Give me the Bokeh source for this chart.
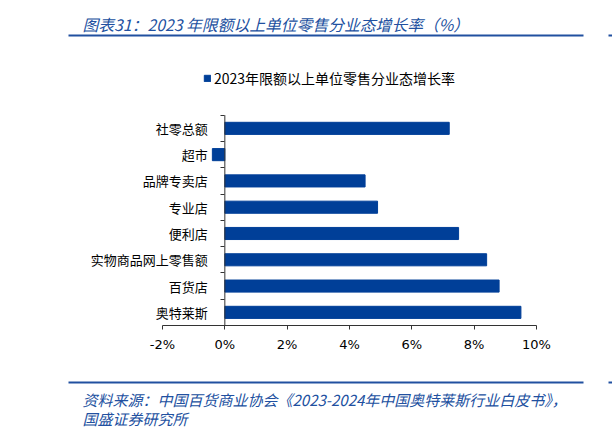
from bokeh.plotting import figure
from bokeh.models import (Range1d, FixedTicker, PrintfTickFormatter, Label,
                          BoxAnnotation, ColumnDataSource)
from bokeh.embed import file_html
from bokeh.resources import INLINE

# ---- data (top to bottom as displayed) ----
categories = ["社零总额", "超市", "品牌专卖店", "专业店", "便利店",
              "实物商品网上零售额", "百货店", "奥特莱斯"]
growth = [7.2, -0.4, 4.5, 4.9, 7.5, 8.4, 8.8, 9.5]
series_name = "2023年限额以上单位零售分业态增长率"
x_ticks = [-2, 0, 2, 4, 6, 8, 10]
title_text = "图表31：2023 年限额以上单位零售分业态增长率（%）"
source_line1 = "资料来源：中国百货商业协会《2023-2024年中国奥特莱斯行业白皮书》，"
source_line2 = "国盛证券研究所"

BLUE_BAR = "#003F98"
BLUE_TXT = "#2150A0"
AXIS = "#333333"
CJK = "Noto Sans CJK SC"

W, H = 612, 435
# pixel layout of the plotting area (page coords, y down)
PX_L, PX_R = 162.0, 536.0     # x of first / last x tick
PY_T, PY_B = 114.7, 325.0     # y of top / bottom category boundary

n = len(categories)
ypos = [n - 0.5 - i for i in range(n)]
src = ColumnDataSource(dict(y=ypos, right=growth, cat=categories))

xs = (PX_R - PX_L) / (x_ticks[-1] - x_ticks[0])
ys = (PY_B - PY_T) / n
x_range = Range1d(x_ticks[0] - PX_L / xs, x_ticks[-1] + (W - PX_R) / xs)
y_range = Range1d(0 - (H - PY_B) / ys, n + PY_T / ys)

p = figure(width=W, height=H, output_backend="svg", toolbar_location=None,
           x_range=x_range, y_range=y_range,
           min_border=0, min_border_left=0, min_border_right=0,
           min_border_top=0, min_border_bottom=0)
p.outline_line_color = None
p.background_fill_color = "white"
p.border_fill_color = "white"
p.xgrid.visible = False
p.ygrid.visible = False

p.hbar(y="y", left=0, right="right", height=0.46, source=src,
       color=BLUE_BAR, legend_label=series_name)

# axis lines limited to the tick span
p.segment(x0=[x_ticks[0]], y0=[0], x1=[x_ticks[-1]], y1=[0],
          line_color=AXIS, line_width=1)
p.segment(x0=[0], y0=[0], x1=[0], y1=[n], line_color=AXIS, line_width=1)

# x axis at y = 0
xa = p.xaxis[0]
xa.fixed_location = 0
xa.ticker = FixedTicker(ticks=x_ticks, minor_ticks=[])
xa.formatter = PrintfTickFormatter(format="%d%%")
xa.axis_line_color = None
xa.major_tick_line_color = AXIS
xa.major_tick_in = 0
xa.major_tick_out = 4
xa.minor_tick_line_color = None
xa.major_label_text_font = "DejaVu Sans"
xa.major_label_text_font_size = "13px"
xa.major_label_text_color = "#000000"
xa.major_label_standoff = 7

# y axis at x = 0
ya = p.yaxis[0]
ya.fixed_location = 0
ya.ticker = FixedTicker(ticks=ypos, minor_ticks=list(range(n + 1)))
ya.major_label_overrides = {y: c for y, c in zip(ypos, categories)}
ya.axis_line_color = None
ya.major_tick_line_color = None
ya.major_tick_in = 0
ya.major_tick_out = 0
ya.minor_tick_line_color = AXIS
ya.minor_tick_in = 0
ya.minor_tick_out = 4
ya.major_label_text_font = CJK
ya.major_label_text_font_size = "13px"
ya.major_label_text_color = "#000000"
ya.major_label_standoff = 13

# legend
lg = p.legend[0]
lg.location = (203, 347)
lg.padding = 0
lg.margin = 0
lg.border_line_color = None
lg.background_fill_alpha = 0
lg.glyph_width = 8
lg.glyph_height = 8
lg.label_standoff = 3
lg.label_text_font = CJK
lg.label_text_font_size = "14px"
lg.label_text_color = "#000000"

# header / footer (screen units, y measured up from bottom)
def rule(page_y):
    for l, r in [(68, 583), (608, W)]:
        p.add_layout(BoxAnnotation(left=l, right=r, top=H - page_y + 1,
                                   bottom=H - page_y - 1,
                                   left_units="screen", right_units="screen",
                                   top_units="screen", bottom_units="screen",
                                   fill_color=BLUE_TXT, fill_alpha=1,
                                   line_color=None, line_alpha=0))

rule(35)
rule(382)

def text(t, x, page_y, size):
    p.add_layout(Label(x=x, y=H - page_y, x_units="screen", y_units="screen",
                       text=t, text_font=CJK, text_font_size=size,
                       text_font_style="italic", text_color=BLUE_TXT,
                       text_baseline="alphabetic"))

text(title_text, 82, 23.5, "15.8px")
text(source_line1, 82, 399, "15px")
text(source_line2, 82, 417.5, "15px")

open("out.html", "w").write(file_html(p, INLINE))
